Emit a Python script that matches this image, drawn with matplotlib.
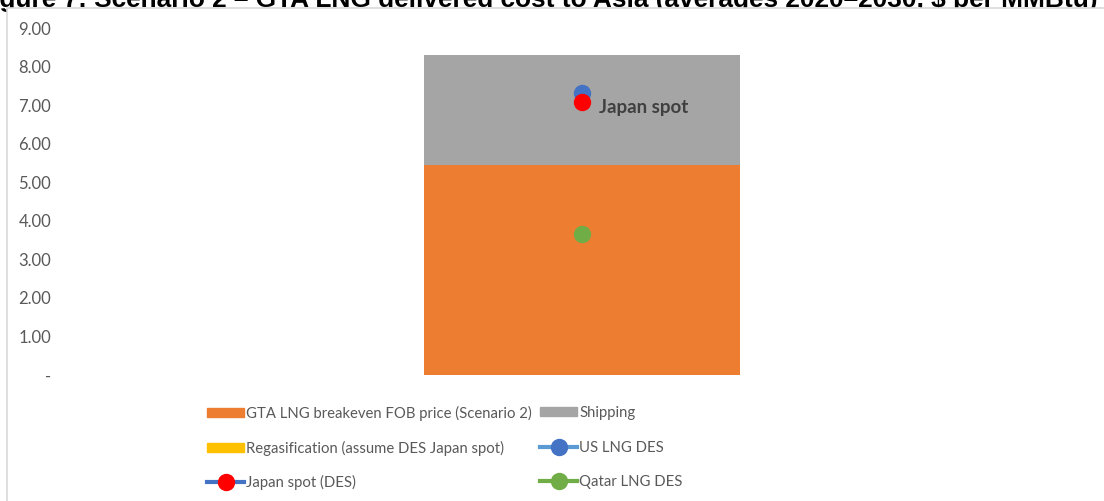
import numpy as np
import matplotlib
matplotlib.use("Agg")
import matplotlib.pyplot as plt
from matplotlib.patches import Rectangle
from matplotlib.lines import Line2D

plt.rcParams['font.family'] = ['Lato', 'DejaVu Sans']

# data ($ per MMBtu, averages 2020-2030)
fob_price = 5.45        # GTA LNG breakeven FOB price (Scenario 2)
shipping = 2.85
regas = 0.0             # Regasification (assume DES Japan spot)
us_lng_des = 7.31
japan_spot = 7.08
qatar_lng_des = 3.66

yticks = [0, 1, 2, 3, 4, 5, 6, 7, 8, 9]
ytick_labels = ["-"] + ["%.2f" % v for v in yticks[1:]]

title = "Figure 7: Scenario 2 \u2013 GTA LNG delivered cost to Asia (averages 2020\u20132030, $ per MMBtu)"

c_orange = "#ED7D31"
c_gray = "#A5A5A5"
c_yellow = "#FFC000"
c_blue = "#4472C4"
c_lblue = "#5B9BD5"
c_red = "#FF0000"
c_green = "#70AD47"
c_text = "#595959"

W, H = 1104, 501
fig = plt.figure(figsize=(W / 100, H / 100), dpi=100)

# title, partly hidden behind the chart box (as in the source page)
fig.text(1097 / W, 1 - 7 / H, title, ha="right", va="baseline",
         fontsize=18.9, fontweight="bold", family="Liberation Sans",
         color="black", zorder=-3)
fig.patches.append(Rectangle((7 / W, -0.1), 1.2, (H - 8) / H + 0.1,
                             transform=fig.transFigure, facecolor="white",
                             edgecolor="#D9D9D9", linewidth=1.2, zorder=-2))

ax = fig.add_axes([65 / W, 1 - 375 / H, (1099 - 65) / W, (375 - 28) / H])
ax.patch.set_visible(False)

x = [0]
bw = 0.306
ax.bar(x, [fob_price], bw, color=c_orange, zorder=2)
ax.bar(x, [shipping], bw, bottom=[fob_price], color=c_gray, zorder=2)
ax.bar(x, [regas], bw, bottom=[fob_price + shipping], color=c_yellow, zorder=2)

ms = 11.5
ax.plot(x, [us_lng_des], "o", color=c_blue, markersize=ms, zorder=3)
ax.plot(x, [japan_spot], "o", color=c_red, markersize=ms, zorder=4)
ax.plot(x, [qatar_lng_des], "o", color=c_green, markersize=ms, zorder=3)
ax.annotate("Japan spot", (x[0], japan_spot), xytext=(12, -4),
            textcoords="offset points", fontsize=13.5, fontweight="bold",
            color="#404040", va="center", ha="left")

ax.set_xlim(-0.5, 0.5)
ax.set_ylim(0, 9)
ax.set_yticks(yticks)
ax.set_yticklabels(ytick_labels)
ax.set_xticks([])
ax.tick_params(axis="y", length=0, labelsize=12, labelcolor=c_text, pad=10)
for s in ax.spines.values():
    s.set_visible(False)

# legend: one small legend per entry so rows line up across both columns
h_fob = Rectangle((0, 0), 1, 1, color=c_orange)
h_ship = Rectangle((0, 0), 1, 1, color=c_gray)
h_regas = Rectangle((0, 0), 1, 1, color=c_yellow)
h_us = Line2D([], [], color=c_lblue, lw=3, marker="o", markersize=ms,
              markerfacecolor=c_blue, markeredgecolor=c_blue)
h_jp = Line2D([], [], color=c_blue, lw=3, marker="o", markersize=ms,
              markerfacecolor=c_red, markeredgecolor=c_red)
h_qa = Line2D([], [], color=c_green, lw=3, marker="o", markersize=ms,
              markerfacecolor=c_green, markeredgecolor=c_green)

entries = [
    (h_fob, "GTA LNG breakeven FOB price (Scenario 2)", 0, 0),
    (h_ship, "Shipping", 1, 0),
    (h_regas, "Regasification (assume DES Japan spot)", 0, 1),
    (h_us, "US LNG DES", 1, 1),
    (h_jp, "Japan spot (DES)", 0, 2),
    (h_qa, "Qatar LNG DES", 1, 2),
]
col_x = [207, 540]
row_y = [413, 448, 482]
for h, lab, c, r in entries:
    fig.legend([h], [lab], loc="center left",
               bbox_to_anchor=(col_x[c] / W, 1 - row_y[r] / H),
               frameon=False, fontsize=10.7, labelcolor=c_text,
               handlelength=2.5, handleheight=0.55, handletextpad=0.15,
               borderaxespad=0, borderpad=0)

fig.savefig("out.png", dpi=100)
